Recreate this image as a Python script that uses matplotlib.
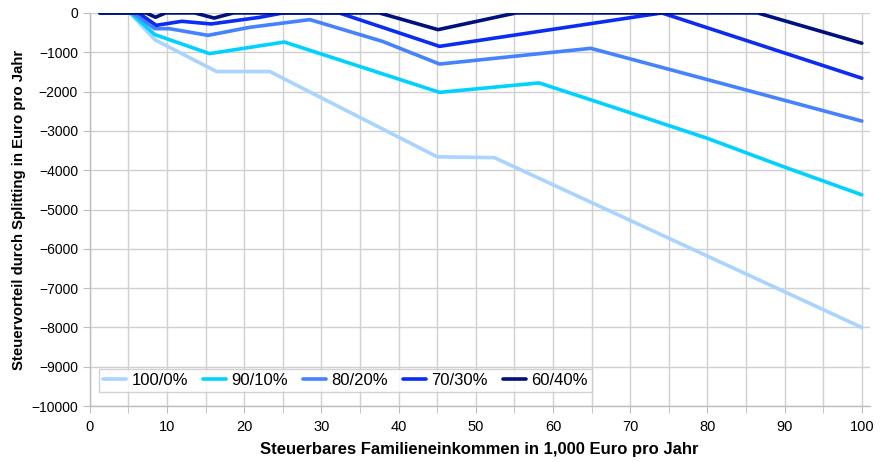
import matplotlib.pyplot as plt
from matplotlib.ticker import MultipleLocator

plt.rcParams['font.family'] = ['Liberation Sans', 'DejaVu Sans']

# Data (x in 1,000 Euro, y in Euro)
x_100_0 = [1.3, 5.2, 8.4, 16.4, 23.3, 45.0, 52.4, 100]
y_100_0 = [0, 0, -680, -1490, -1490, -3660, -3680, -8000]

x_90_10 = [1.3, 5.3, 8.4, 15.5, 25.2, 45.3, 58.2, 65.9, 79.9, 90.0, 100]
y_90_10 = [0, 0, -550, -1035, -740, -2020, -1780, -2275, -3183, -3921, -4626]

x_80_20 = [1.3, 5.6, 8.4, 10.3, 15.3, 20.7, 28.5, 37.9, 45.3, 64.9, 100]
y_80_20 = [0, 0, -400, -400, -570, -366, -170, -723, -1300, -900, -2750]

x_70_30 = [1.3, 6.3, 8.6, 11.9, 15.7, 22.0, 25.0, 32.3, 45.3, 74.1, 100]
y_70_30 = [0, 0, -315, -213, -280, -112, 0, 0, -850, 0, -1660]

x_60_40 = [1.3, 7.3, 8.5, 9.8, 13.6, 16.1, 18.6, 37.5, 45.1, 55.2, 86.5, 100]
y_60_40 = [0, 0, -110, 0, 0, -130, 0, 0, -425, 0, 0, -770]

labels = ["100/0%", "90/10%", "80/20%", "70/30%", "60/40%"]
colors = ["#A8D4FF", "#00D2FF", "#4482FF", "#0A2CF5", "#00107E"]

series = [(x_100_0, y_100_0), (x_90_10, y_90_10), (x_80_20, y_80_20),
          (x_70_30, y_70_30), (x_60_40, y_60_40)]

fig = plt.figure(figsize=(8.81, 4.62), dpi=100)
ax = fig.add_axes([0.102, 0.121, 0.885, 0.851])

for (xs, ys), lab, col in zip(series, labels, colors):
    ax.plot(xs, ys, color=col, linewidth=2.6, label=lab,
            solid_capstyle='round', solid_joinstyle='round', zorder=3)

ax.set_xlim(0, 101)
ax.set_ylim(-10000, 0)
ax.xaxis.set_major_locator(MultipleLocator(10))
ax.xaxis.set_minor_locator(MultipleLocator(5))
ax.yaxis.set_major_locator(MultipleLocator(1000))

ax.grid(True, which='both', color='#D0D0D0', linewidth=1.0, zorder=0)
ax.set_axisbelow(True)

for side in ['top', 'right']:
    ax.spines[side].set_visible(False)
for side in ['left', 'bottom']:
    ax.spines[side].set_color('#BDBDBD')
    ax.spines[side].set_linewidth(1.0)

ax.tick_params(axis='both', which='both', color='#BDBDBD', length=5,
               labelsize=10, direction='out')
ax.tick_params(axis='x', labelsize=10.5, pad=5)

ax.set_xlabel("Steuerbares Familieneinkommen in 1,000 Euro pro Jahr",
              fontsize=12, fontweight='bold', labelpad=6)
ax.set_ylabel("Steuervorteil durch Splitting in Euro pro Jahr",
              fontsize=10.8, fontweight='bold', labelpad=4)

leg = ax.legend(loc='lower left', ncol=5, fontsize=12, frameon=True,
                fancybox=False, edgecolor='#C8C8C8', handlelength=1.4,
                handletextpad=0.3, columnspacing=0.9, borderpad=0.25,
                borderaxespad=0, bbox_to_anchor=(0.0115, 0.036))
leg.get_frame().set_linewidth(1.0)

fig.savefig("out.png", dpi=100)
